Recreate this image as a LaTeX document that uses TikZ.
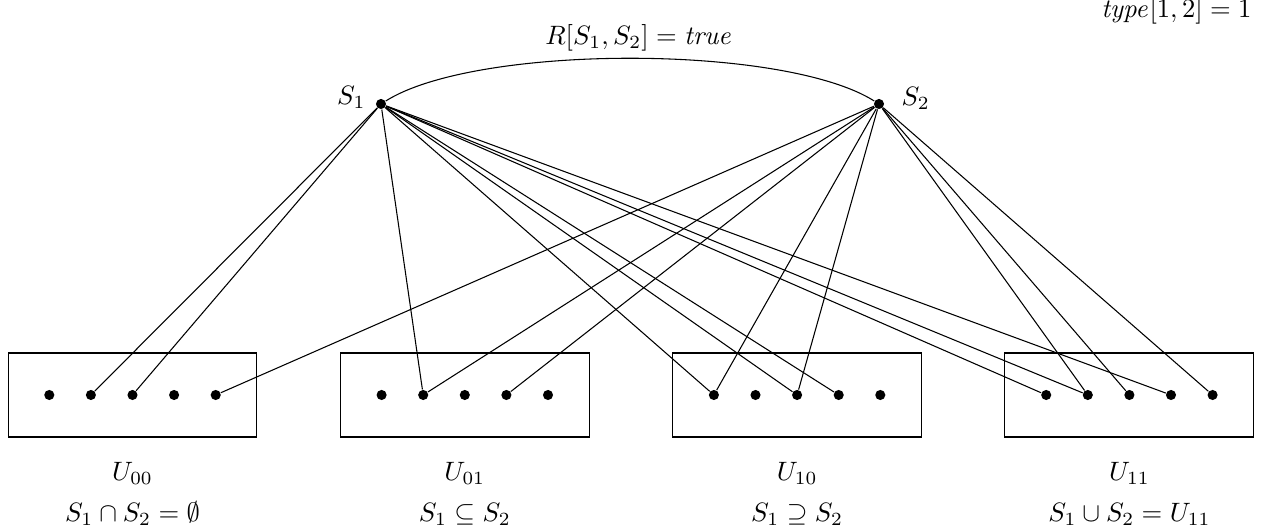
\documentclass[tikz,border=0pt]{standalone}
\usepackage{amssymb}
\begin{document}
\begin{tikzpicture}[x=0.376pt,y=-0.376pt,
  dot/.style={circle,fill=black,inner sep=0pt,minimum size=3.8pt},
  setbox/.style={draw,line width=0.4pt,minimum width=93.6pt,minimum height=31.6pt,inner sep=0pt},
  edge/.style={line width=0.4pt},
  lab/.style={inner sep=0pt}]
\useasboundingbox (0,0) rectangle (1266,531);

% boxes and dots
\foreach \i/\cx/\ua/\ub in {0/132.5/{U_{00}}/{S_1\cap S_2=\emptyset},
                             1/464.8/{U_{01}}/{S_1\subseteq S_2},
                             2/797.1/{U_{10}}/{S_1\supseteq S_2},
                             3/1129.4/{U_{11}}/{S_1\cup S_2=U_{11}}}{
  \node[setbox] (B\i) at (\cx,395) {};
  \foreach \k in {1,...,5}{
    \node[dot] (d\i\k) at ({\cx+(\k-3)*41.6},395) {};
  }
  \node[lab,anchor=base] (UL\i) at (\cx,481) {$\ua$};
  \node[lab,anchor=base] (SL\i) at (\cx,522) {$\ub$};
}

% set nodes
\node[dot] (S1) at (381,104) {};
\node[dot] (S2) at (879,104) {};
\node[lab,anchor=base east] (S1l) at (366,105) {$S_1$};
\node[lab,anchor=base west] (S2l) at (901,106) {$S_2$};

% relation arc
\draw[edge] (S1) .. controls +(95,-60) and +(-95,-60) .. (S2);
\node[lab,anchor=base] (R) at (639,45) {$R[S_1,S_2]=\mathit{true}$};
\node[lab,anchor=base east] (T) at (1252,18) {$\mathit{type}[1,2]=1$};

% edges from S1
\foreach \t in {02,03,12,21,23,24,31,32,34}{
  \draw[edge] (S1) -- (d\t);
}
% edges from S2
\foreach \t in {05,12,14,21,23,32,33,35}{
  \draw[edge] (S2) -- (d\t);
}
\end{tikzpicture}
\end{document}
